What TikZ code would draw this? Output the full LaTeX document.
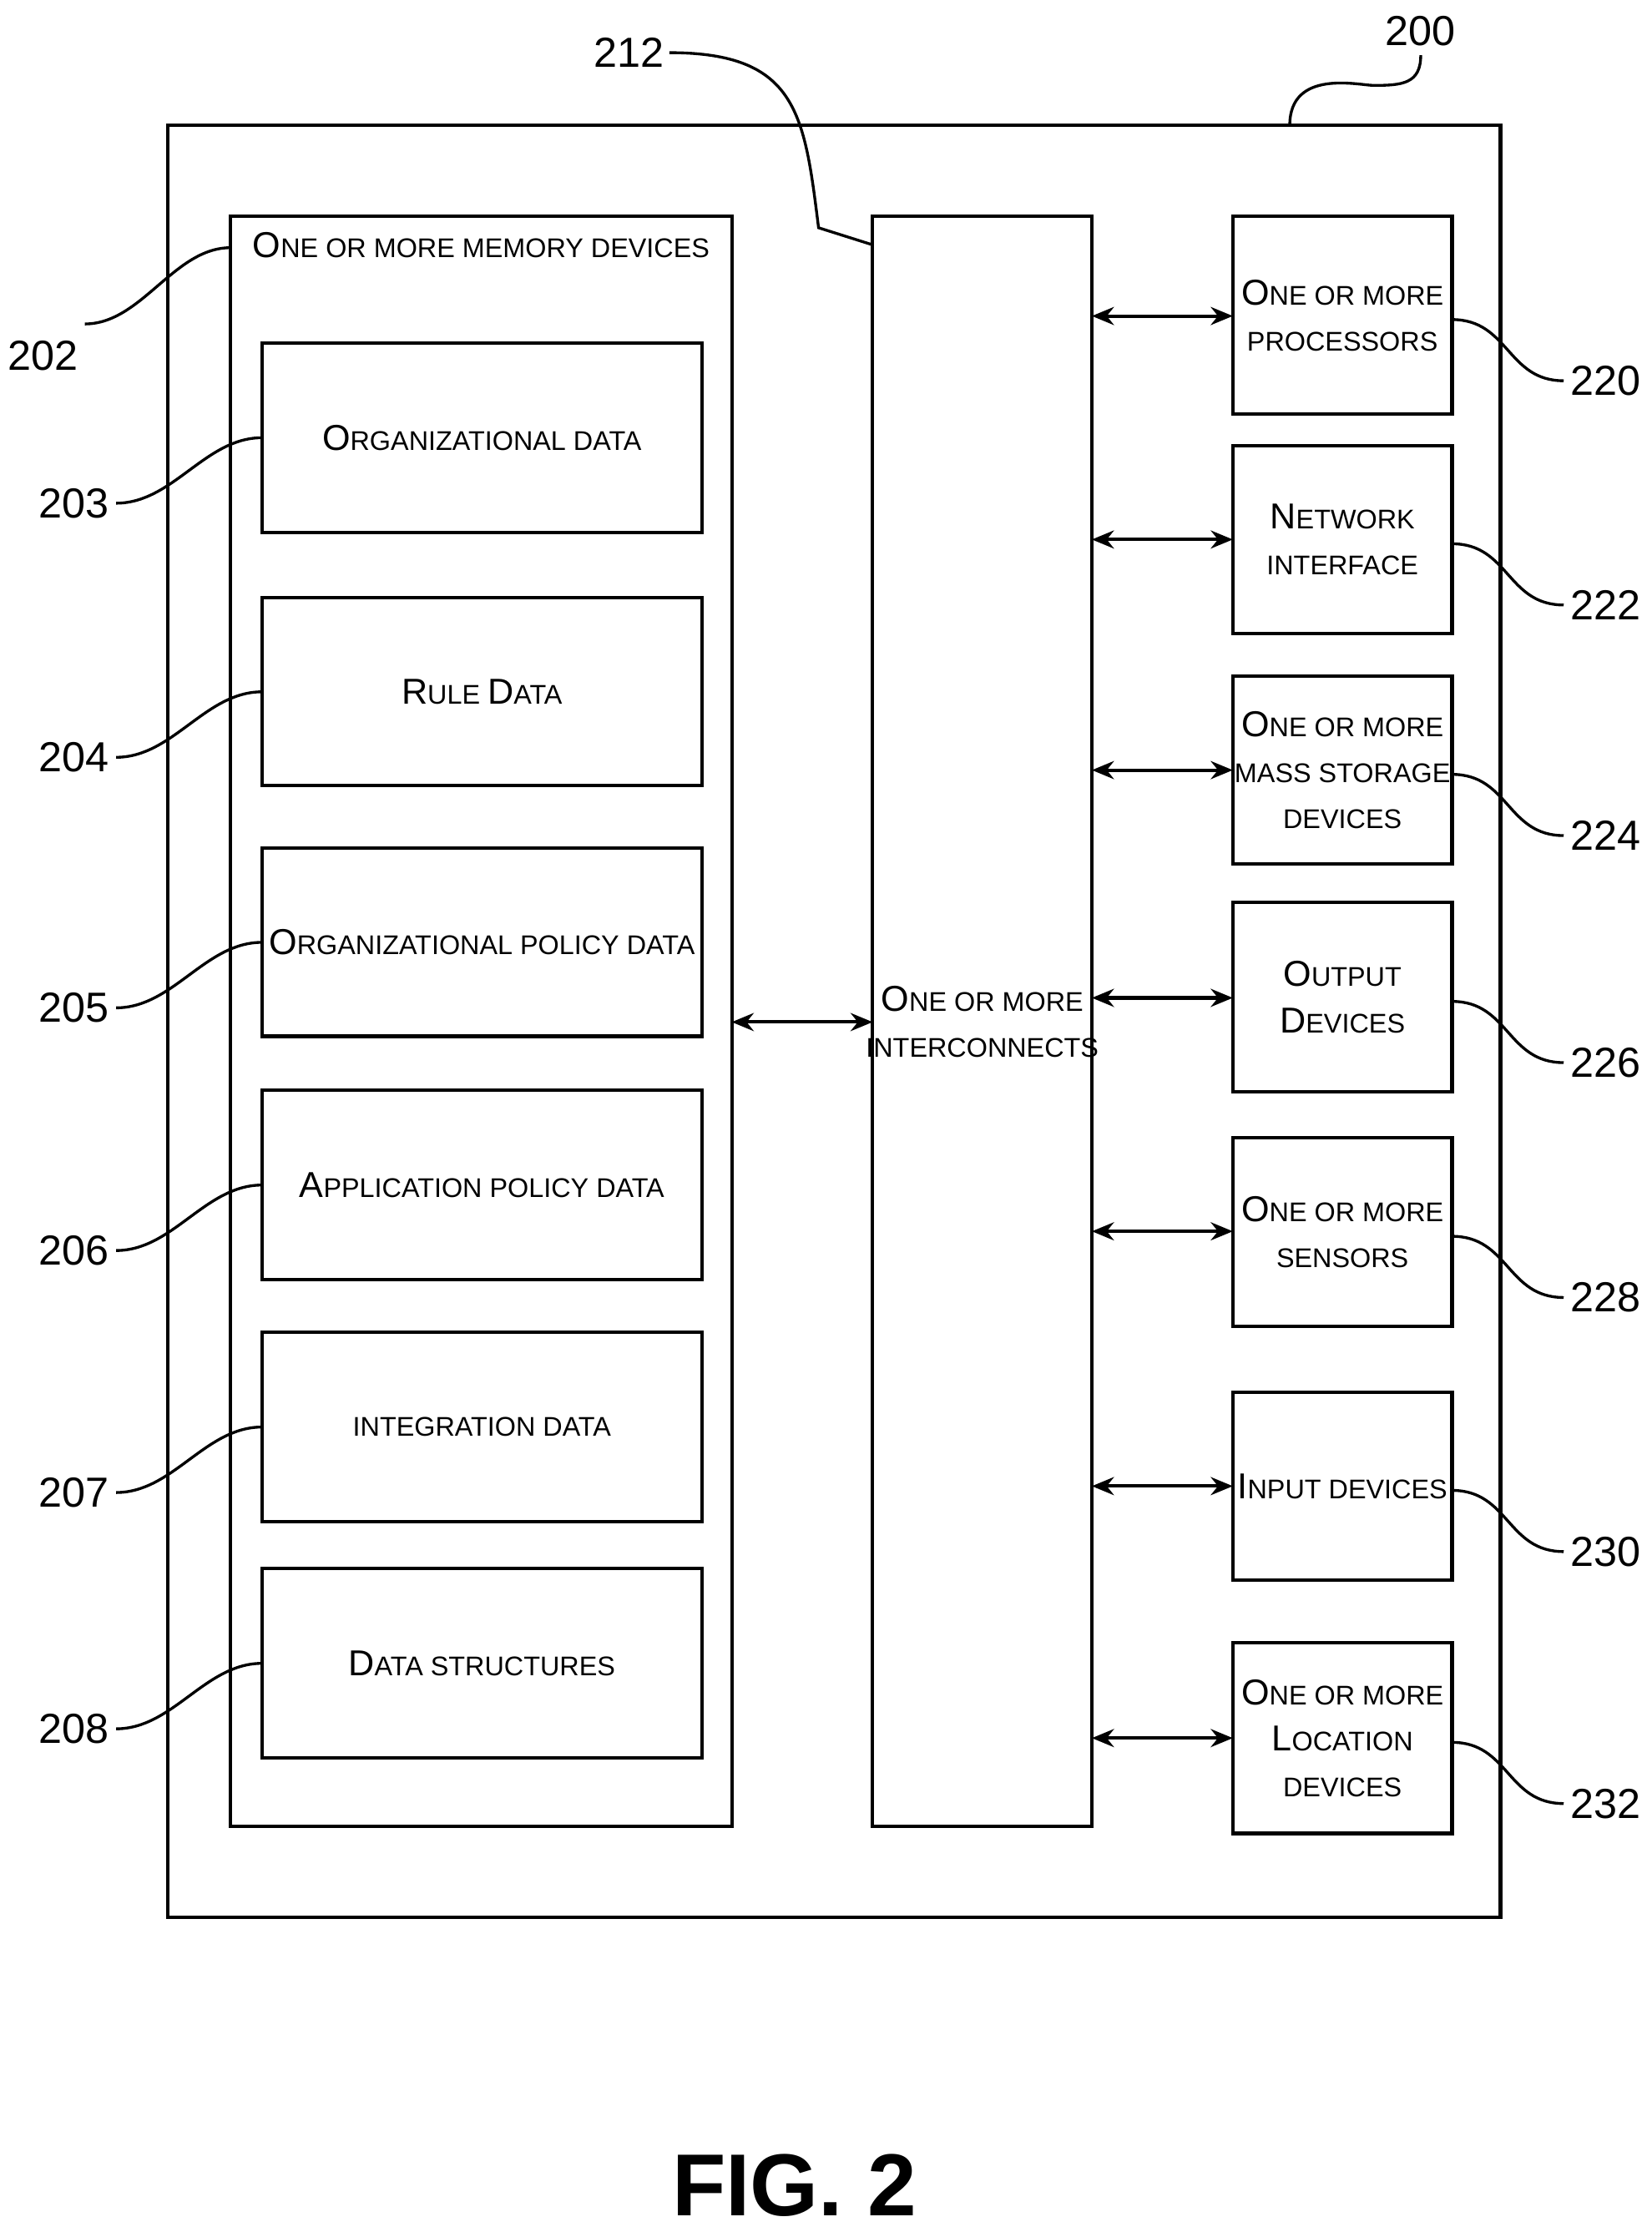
\documentclass[tikz,border=0pt]{standalone}
\usepackage{fontspec}
\setmainfont{Liberation Sans}
\usetikzlibrary{arrows.meta}
\newcommand{\B}[1]{{\fontsize{36}{40}\selectfont #1}}
\newcommand{\Sm}[1]{{\fontsize{27}{40}\selectfont\MakeUppercase{#1}}}
\begin{document}
\begin{tikzpicture}[x=0.05cm,y=-0.05cm,line width=3.4pt,
 box/.style={draw,line width=3.4pt},
 txt/.style={align=center,font=\fontsize{27}{46}\selectfont},
 lab/.style={font=\fontsize{42}{46}\selectfont},
 ar/.style={{Stealth[length=22pt,width=18pt]}-{Stealth[length=22pt,width=18pt]}},
 ld/.style={line width=2.8pt}]
\useasboundingbox (0,0) rectangle (1160,1568);
\draw[box] (118,88) rectangle (1054,1347);
\draw[box] (162,152) rectangle (514,1283);
\node[txt] (mt) at (338,172) {\B{O}\Sm{ne or more memory devices}};
\coordinate (m) at (162,174);
\foreach \n/\a/\b/\t in {203/241/374/{\B{O}\Sm{rganizational data}},
 204/420/552/{\B{R}\Sm{ule }\B{D}\Sm{ata}},
 205/596/728/{\B{O}\Sm{rganizational policy data}},
 206/766/899/{\B{A}\Sm{pplication policy data}},
 207/936/1069/{\Sm{integration data}},
 208/1102/1235/{\B{D}\Sm{ata structures}}}{
 \draw[box] (184,\a) rectangle (493,\b);
 \node[txt] (b\n) at (338.5,{(\a+\b)/2}) {\t};
 \coordinate (p\n) at (184,{(\a+\b)/2});
 \node[lab] (l\n) at (52,{(\a+\b)/2+46}) {\n};
 \draw[ld] (p\n) .. controls +(-40,0) and +(40,0) .. ([xshift=2pt]l\n.east);
}
\node[lab] (l202) at (30,250) {202};
\draw[ld] (m) .. controls +(-40,0) and +(40,0) .. ([xshift=2pt,yshift=12pt]l202.north east);
\draw[box] (613,152) rectangle (767,1283);
\node[txt] (ic) at (690,718) {\B{O}\Sm{ne or more}\\\Sm{interconnects}};
\coordinate (icl) at (613,718); \coordinate (mr) at (514,718);
\draw[ar] (mr) -- (icl);
\coordinate (ict) at (613,172);
\node[lab] (l212) at (442,37) {212};
\draw[ld] (l212.east) .. controls +(90,0) and +(-10,-80) .. (575,160) -- (ict);
\node[lab] (l200) at (998,22) {200};
\coordinate (ot) at (906,88);
\draw[ld] (ot) .. controls +(0,-40) and +(-10,0) .. (965,60) .. controls +(20,0) and +(0,20) .. ([yshift=-4pt]l200.south);
\foreach \n/\a/\b/\y/\t in {220/152/291/222/{\B{O}\Sm{ne or more}\\\Sm{processors}},
 222/313/445/379/{\B{N}\Sm{etwork}\\\Sm{interface}},
 224/475/607/541/{\B{O}\Sm{ne or more}\\\Sm{mass storage}\\\Sm{devices}},
 226/634/767/701/{\B{O}\Sm{utput}\\\B{D}\Sm{evices}},
 228/799/932/865/{\B{O}\Sm{ne or more}\\\Sm{sensors}},
 230/978/1110/1044/{\B{I}\Sm{nput devices}},
 232/1154/1288/1221/{\B{O}\Sm{ne or more}\\\B{L}\Sm{ocation}\\\Sm{devices}}}{
 \draw[box] (866,\a) rectangle (1020,\b);
 \node[txt] (r\n) at (943,{(\a+\b)/2}) {\t};
 \coordinate (a\n) at (767,\y); \coordinate (c\n) at (866,\y);
 \draw[ar] (a\n) -- (c\n);
 \coordinate (q\n) at (1020,{(\a+\b)/2+3});
 \node[lab] (l\n) at (1128,{(\a+\b)/2+46}) {\n};
 \draw[ld] (q\n) .. controls +(40,0) and +(-40,0) .. ([xshift=-2pt]l\n.west);
}
\node[font=\bfseries\fontsize{88}{90}\selectfont] (fig) at (558,1535) {FIG. 2};
\end{tikzpicture}
\end{document}
